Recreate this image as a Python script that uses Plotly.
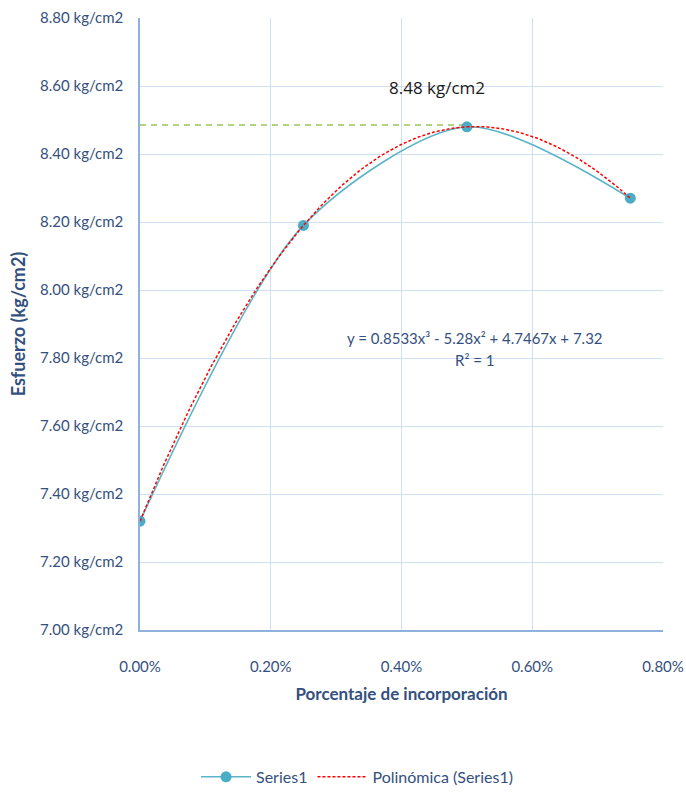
import numpy as np
import plotly.graph_objects as go

# Data
porcentaje = [0.0, 0.25, 0.5, 0.75]
esfuerzo = [7.32, 8.19, 8.48, 8.27]
poly_coef = [0.8533, -5.28, 4.7467, 7.32]  # y = a x^3 + b x^2 + c x + d (from chart)
max_value = 8.48
max_label = "8.48 kg/cm2"
eq_text = "y = 0.8533x³ - 5.28x² + 4.7467x + 7.32"
r2_text = "R² = 1"
x_ticks = [0.0, 0.2, 0.4, 0.6, 0.8]
y_ticks = [7.0, 7.2, 7.4, 7.6, 7.8, 8.0, 8.2, 8.4, 8.6, 8.8]
x_ticktext = [f"{v:.2f}%" for v in x_ticks]
y_ticktext = [f"{v:.2f} kg/cm2" for v in y_ticks]

FONT = "Lato, Open Sans, sans-serif"
TXT = "#34507e"
GRID = "#d0dff2"
AXIS = "#8fb1de"

xs = np.linspace(porcentaje[0], porcentaje[-1], 200)
ys = np.polyval(poly_coef, xs)

fig = go.Figure()
fig.add_trace(go.Scatter(
    x=[porcentaje[0], porcentaje[2]], y=[max_value + 0.005, max_value + 0.005],
    mode="lines", line=dict(color="#9ac35a", width=1.5, dash="6px,5px"),
    showlegend=False, hoverinfo="skip"))
fig.add_trace(go.Scatter(
    x=porcentaje, y=esfuerzo, mode="lines+markers", name="Series1",
    line=dict(color="#5ab4c8", width=1.6, shape="spline", smoothing=0.8),
    marker=dict(color="#4bacc6", size=11)))
fig.add_trace(go.Scatter(
    x=xs, y=ys, mode="lines", name="Polinómica (Series1)",
    line=dict(color="#ff0000", width=1.5, dash="3px,2px")))

fig.add_annotation(x=0.454, y=8.595, text=max_label, showarrow=False,
                   font=dict(family="Open Sans, Liberation Sans, sans-serif", size=17, color="#1a1a1a"))
fig.add_annotation(x=0.512, y=7.86, text=eq_text, showarrow=False,
                   font=dict(family=FONT, size=15, color=TXT))
fig.add_annotation(x=0.512, y=7.795, text=r2_text, showarrow=False,
                   font=dict(family=FONT, size=15, color=TXT))

fig.update_layout(
    width=686, height=793,
    margin=dict(l=140, r=23, t=18, b=163, autoexpand=False),
    paper_bgcolor="white", plot_bgcolor="white",
    font=dict(family=FONT, size=15, color=TXT),
    showlegend=True,
    legend=dict(orientation="h", x=0.415, xanchor="center", y=-0.24, yanchor="middle",
                itemwidth=50, tracegroupgap=20,
                font=dict(family=FONT, size=16, color=TXT)),
    xaxis=dict(range=[0, 0.8], tickmode="array", tickvals=x_ticks, ticktext=x_ticktext,
               automargin=False,
               showgrid=True, gridcolor=GRID, gridwidth=1,
               showline=True, linecolor=AXIS, linewidth=1.5, zeroline=False,
               ticks="outside", ticklen=22, tickcolor="rgba(0,0,0,0)",
               title=dict(text="<b>Porcentaje de incorporación</b>", standoff=14,
                          font=dict(family=FONT, size=17, color=TXT)),
               tickfont=dict(family=FONT, size=15, color=TXT)),
    yaxis=dict(range=[7.0, 8.8], tickmode="array", tickvals=y_ticks, ticktext=y_ticktext,
               automargin=False,
               showgrid=True, gridcolor=GRID, gridwidth=1,
               showline=True, linecolor=AXIS, linewidth=1.5, zeroline=False,
               ticks="outside", ticklen=12, tickcolor="rgba(0,0,0,0)",
               title=dict(text="<b>Esfuerzo (kg/cm2)</b>", standoff=10,
                          font=dict(family=FONT, size=18, color=TXT)),
               tickfont=dict(family=FONT, size=15, color=TXT)),
)

fig.write_html("out.html")
